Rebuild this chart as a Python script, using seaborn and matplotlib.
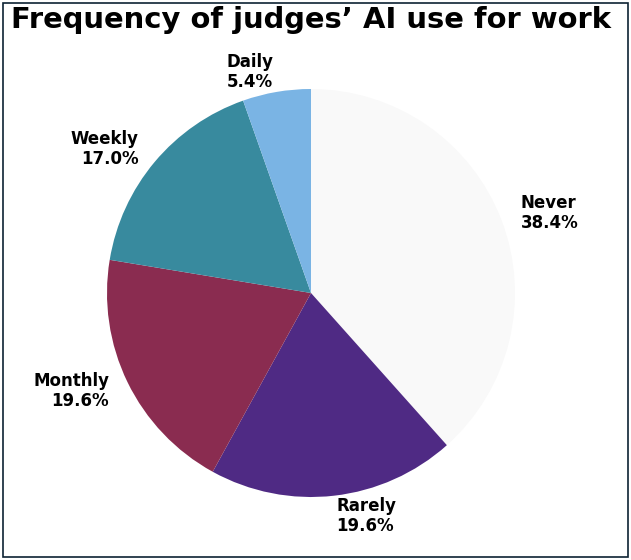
import matplotlib
matplotlib.use("Agg")
import matplotlib.pyplot as plt
import seaborn as sns

sns.set_theme(style="white")
plt.rcParams['font.family'] = ['DejaVu Sans']

categories = ['Never', 'Rarely', 'Monthly', 'Weekly', 'Daily']
shares = [38.4, 19.6, 19.6, 17.0, 5.4]
colors = ['#f9f9f9', '#4f2a84', '#8a2c50', '#388a9e', '#7ab4e4']

labels = ['{}\n{:.1f}%'.format(c, v) for c, v in zip(categories, shares)]

fig = plt.figure(figsize=(6.31, 5.6), dpi=100)
ax = fig.add_axes([56 / 631, 12 / 560, 510 / 631, 510 / 560])

ax.pie(shares, labels=labels, colors=sns.color_palette(colors), startangle=90,
       counterclock=False, labeldistance=1.1,
       wedgeprops={'linewidth': 0, 'edgecolor': 'none'},
       textprops={'fontsize': 12, 'fontweight': 'bold', 'color': 'black',
                  'linespacing': 1.1})
ax.set_xlim(-1.25, 1.25)
ax.set_ylim(-1.25, 1.25)
ax.set_aspect('equal')

fig.text(0.493, 1 - 28 / 560, 'Frequency of judges\u2019 AI use for work', ha='center', va='baseline',
         fontsize=20.9, fontweight='bold', color='black')

border = plt.Rectangle((3 / 631, 3 / 560), 625 / 631, 554 / 560, transform=fig.transFigure,
                       fill=False, edgecolor='#0d2233', linewidth=1.2)
fig.patches.append(border)

fig.savefig('out.png', dpi=100)
